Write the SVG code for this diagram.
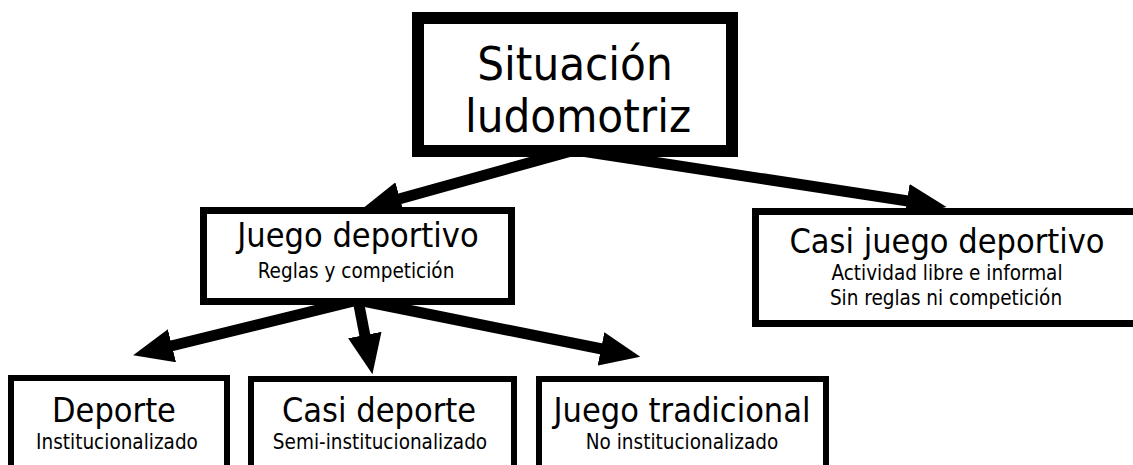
<svg xmlns="http://www.w3.org/2000/svg" width="1133" height="465" viewBox="0 0 1133 465">
<style>
.box{fill:#fff;stroke:#000}
.t{font-family:"DejaVu Sans Condensed","DejaVu Sans",sans-serif;fill:#000;text-anchor:middle}
.big{font-size:47px}
.h{font-size:34px}
.s{font-size:20.5px}
.arr{stroke:#000;stroke-width:11;fill:none;marker-end:url(#head)}
</style>
<defs>
<marker id="head" markerUnits="userSpaceOnUse" markerWidth="40" markerHeight="34" viewBox="0 0 40 34" refX="1" refY="17" orient="auto">
<path d="M0,0 L40,17 L0,34 z" fill="#000"/>
</marker>
</defs>
<rect width="1133" height="465" fill="#fff"/>
<g id="connectors">
<line class="arr" x1="575" y1="150" x2="399" y2="199"/>
<line class="arr" x1="575" y1="150" x2="908" y2="201"/>
<line class="arr" x1="358" y1="300" x2="171" y2="346"/>
<line class="arr" x1="358" y1="300" x2="365" y2="336"/>
<line class="arr" x1="358" y1="300" x2="602" y2="349"/>
</g>
<g id="n-situacion">
<rect class="box" x="418" y="18" width="314" height="133" stroke-width="12"/>
<text class="t big" x="575" y="80">Situación</text>
<text class="t big" x="578" y="132">ludomotriz</text>
</g>
<g id="n-juego-deportivo">
<rect class="box" x="203.5" y="210.5" width="308" height="91" stroke-width="7"/>
<text class="t h" x="358" y="247">Juego deportivo</text>
<text class="t s" x="356" y="278">Reglas y competición</text>
</g>
<g id="n-casi-juego-deportivo">
<rect class="box" x="755.5" y="211.5" width="400" height="112" stroke-width="7"/>
<text class="t h" x="947" y="253">Casi juego deportivo</text>
<text class="t s" x="947" y="280">Actividad libre e informal</text>
<text class="t s" x="946" y="305">Sin reglas ni competición</text>
</g>
<g id="n-deporte">
<rect class="box" x="11" y="378" width="216" height="120" stroke-width="6"/>
<text class="t h" x="114" y="422">Deporte</text>
<text class="t s" x="117" y="449">Institucionalizado</text>
</g>
<g id="n-casi-deporte">
<rect class="box" x="251" y="379" width="263" height="120" stroke-width="6"/>
<text class="t h" x="379" y="422">Casi deporte</text>
<text class="t s" x="380" y="449">Semi-institucionalizado</text>
</g>
<g id="n-juego-tradicional">
<rect class="box" x="539" y="379" width="287" height="120" stroke-width="6"/>
<text class="t h" x="682" y="422">Juego tradicional</text>
<text class="t s" x="682" y="449">No institucionalizado</text>
</g>
</svg>
